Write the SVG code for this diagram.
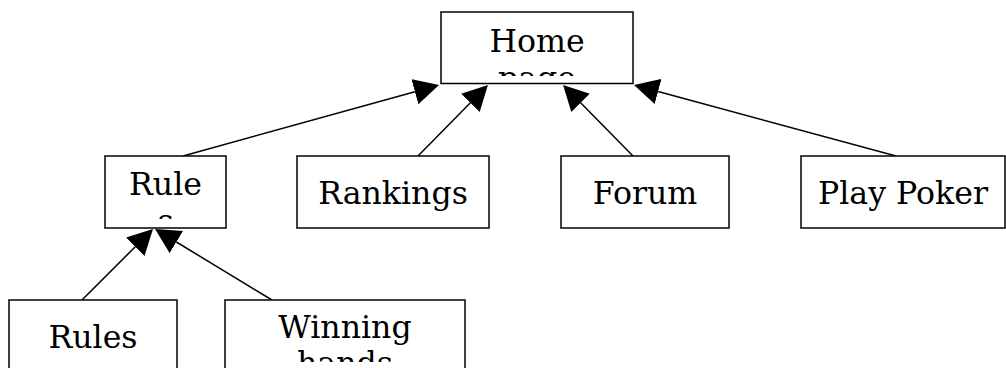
<svg xmlns="http://www.w3.org/2000/svg" width="1006" height="368" viewBox="0 0 1006 368">
<style>
.box{fill:#fff;stroke:#000;stroke-width:1.5}
.lbl{font-family:"DejaVu Serif","Liberation Serif",serif;font-size:31.6px;fill:#000;text-anchor:middle}
.edge{stroke:#000;stroke-width:1.5;fill:none;marker-end:url(#arr)}
</style>
<defs>
<marker id="arr" viewBox="0 0 25 26" refX="0" refY="13" markerWidth="25" markerHeight="26" markerUnits="userSpaceOnUse" orient="auto">
<path d="M0,0 L25,13 L0,26 Z" fill="#000"/>
</marker>
<clipPath id="cHome"><rect x="441" y="12" width="192" height="64"/></clipPath>
<clipPath id="cRule"><rect x="105" y="156" width="121" height="63"/></clipPath>
<clipPath id="cWin"><rect x="225" y="300" width="240" height="62"/></clipPath>
</defs>
<rect width="1006" height="368" fill="#fff"/>
<g id="connectors">
<line class="edge" x1="183" y1="156" x2="414.9" y2="91.7"/>
<line class="edge" x1="418" y1="156" x2="470.4" y2="102.8"/>
<line class="edge" x1="633" y1="156" x2="580.6" y2="102.8"/>
<line class="edge" x1="896" y1="156" x2="658.1" y2="91.5"/>
<line class="edge" x1="82" y1="300" x2="135.3" y2="246.7"/>
<line class="edge" x1="272" y1="300" x2="176.4" y2="242"/>
</g>
<g id="home">
<rect class="box" x="441" y="12" width="192" height="71.5"/>
<text class="lbl" clip-path="url(#cHome)"><tspan x="537" y="52">Home</tspan><tspan x="537" y="89">page</tspan></text>
</g>
<g id="rule">
<rect class="box" x="105" y="156" width="121" height="72"/>
<text class="lbl" clip-path="url(#cRule)"><tspan x="165.5" y="195">Rule</tspan><tspan x="165.5" y="232">s</tspan></text>
</g>
<g id="rankings">
<rect class="box" x="297" y="156" width="192" height="72"/>
<text class="lbl" x="393" y="204">Rankings</text>
</g>
<g id="forum">
<rect class="box" x="561" y="156" width="168" height="72"/>
<text class="lbl" x="645" y="204">Forum</text>
</g>
<g id="playpoker">
<rect class="box" x="801" y="156" width="204" height="72"/>
<text class="lbl" x="903" y="204">Play Poker</text>
</g>
<g id="rules">
<rect class="box" x="9" y="300" width="168" height="72"/>
<text class="lbl" x="93" y="348">Rules</text>
</g>
<g id="winning">
<rect class="box" x="225" y="300" width="240" height="72"/>
<text class="lbl" clip-path="url(#cWin)"><tspan x="345" y="338">Winning</tspan><tspan x="345" y="374">hands</tspan></text>
</g>
</svg>
